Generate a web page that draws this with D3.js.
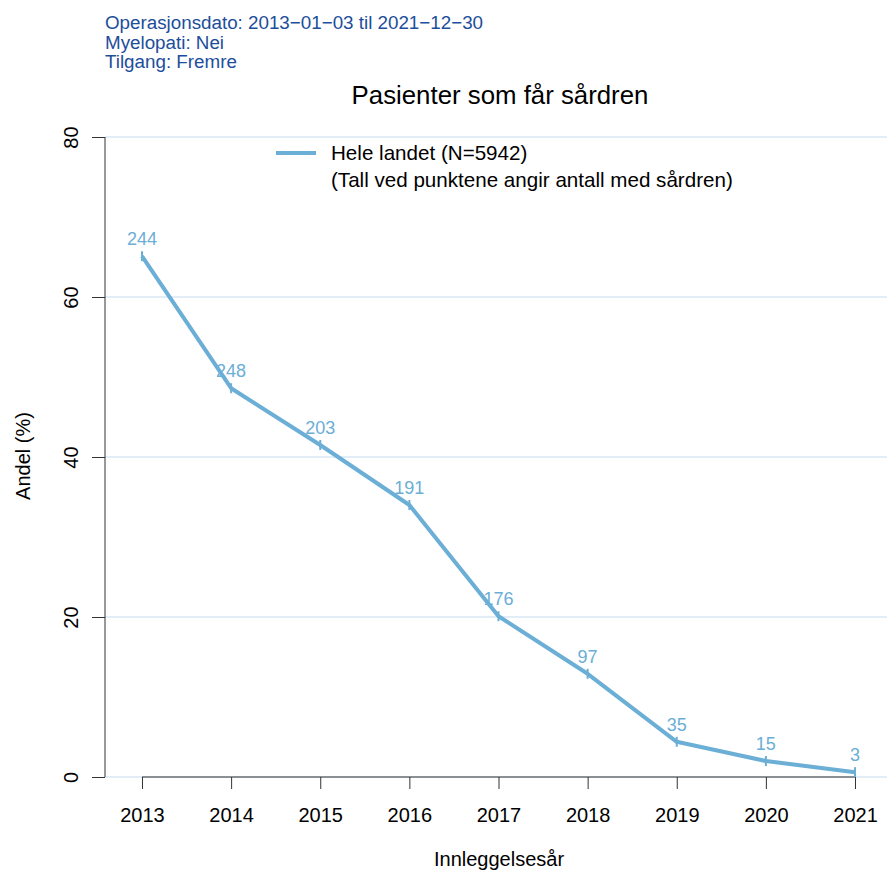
<!DOCTYPE html>
<html>
<head>
<meta charset="utf-8">
<script src="https://cdn.jsdelivr.net/npm/d3@7"></script>
<style>
  body { margin: 0; background: #fff; }
  text { font-family: "Liberation Sans", Arial, sans-serif; }
</style>
</head>
<body>
<svg id="chart"></svg>
<script>
const years = [2013, 2014, 2015, 2016, 2017, 2018, 2019, 2020, 2021];
const shares = [65.1, 48.6, 41.5, 34.0, 20.1, 12.9, 4.4, 2.0, 0.6];
const counts = [244, 248, 203, 191, 176, 97, 35, 15, 3];
const yTicks = [0, 20, 40, 60, 80];
const subtitleLines = [
  "Operasjonsdato: 2013\u221201\u221203 til 2021\u221212\u221230",
  "Myelopati: Nei",
  "Tilgang: Fremre"
];
const legendLines = ["Hele landet (N=5942)", "(Tall ved punktene angir antall med sårdren)"];

const width = 887;
const height = 874;
const lineColor = "#6baed6";
const gridColor = "#c6dbef";

const svg = d3.select("#chart").attr("width", width).attr("height", height);

const x = d3.scaleLinear().domain([2012.585, 2021.415]).range([105, 892]);
const y = d3.scaleLinear().domain([0, 80]).range([777, 137]);

// gridlines
svg.append("g")
  .selectAll("line")
  .data(yTicks)
  .join("line")
  .attr("x1", 105)
  .attr("x2", width)
  .attr("y1", (d) => y(d))
  .attr("y2", (d) => y(d))
  .attr("stroke", gridColor)
  .attr("stroke-width", 1);

// y axis
const yAxis = svg.append("g")
  .attr("transform", "translate(105,0)")
  .call(d3.axisLeft(y).tickValues(yTicks).tickSize(13).tickPadding(0).tickFormat(d3.format("d")));
yAxis.select(".domain").attr("stroke", "#333").attr("d", `M0,${y(0)}V${y(80)}`);
yAxis.selectAll(".tick line").attr("stroke", "#333");
yAxis.selectAll(".tick text")
  .attr("x", null)
  .attr("dy", null)
  .attr("transform", "translate(-27,0) rotate(-90)")
  .attr("text-anchor", "middle")
  .attr("font-size", 20)
  .attr("fill", "#000");

// x axis
const xAxis = svg.append("g")
  .attr("transform", `translate(0,${y(0)})`)
  .call(d3.axisBottom(x).tickValues(years).tickSize(12).tickPadding(0).tickFormat(d3.format("d")));
xAxis.select(".domain").attr("stroke", "#333").attr("d", `M${x(2013)},0H${x(2021)}`);
xAxis.selectAll(".tick line").attr("stroke", "#333");
xAxis.selectAll(".tick text")
  .attr("y", 45)
  .attr("dy", null)
  .attr("font-size", 20)
  .attr("fill", "#000");

// line
const line = d3.line()
  .x((d, i) => x(years[i]))
  .y((d) => y(d));

svg.append("path")
  .datum(shares)
  .attr("d", line)
  .attr("fill", "none")
  .attr("stroke", lineColor)
  .attr("stroke-width", 4)
  .attr("stroke-linejoin", "round");

// point marks
svg.append("g")
  .selectAll("line")
  .data(shares)
  .join("line")
  .attr("x1", (d, i) => x(years[i]))
  .attr("x2", (d, i) => x(years[i]))
  .attr("y1", (d) => y(d) - 5)
  .attr("y2", (d) => y(d) + 5)
  .attr("stroke", lineColor)
  .attr("stroke-width", 2);

// count labels
svg.append("g")
  .selectAll("text")
  .data(counts)
  .join("text")
  .attr("x", (d, i) => x(years[i]))
  .attr("y", (d, i) => y(shares[i]) - 11)
  .attr("text-anchor", "middle")
  .attr("font-size", 18)
  .attr("fill", lineColor)
  .text((d) => d);

// subtitle
svg.append("g")
  .selectAll("text")
  .data(subtitleLines)
  .join("text")
  .attr("x", 105)
  .attr("y", (d, i) => 29 + i * 19.5)
  .attr("font-size", 18.8)
  .attr("fill", "#1c4e9b")
  .text((d) => d);

// title
svg.append("text")
  .attr("x", 500)
  .attr("y", 104)
  .attr("text-anchor", "middle")
  .attr("font-size", 25.8)
  .attr("fill", "#000")
  .text("Pasienter som får sårdren");

// legend
svg.append("line")
  .attr("x1", 276)
  .attr("x2", 316)
  .attr("y1", 153)
  .attr("y2", 153)
  .attr("stroke", lineColor)
  .attr("stroke-width", 4);

svg.append("g")
  .selectAll("text")
  .data(legendLines)
  .join("text")
  .attr("x", 331)
  .attr("y", (d, i) => 160 + i * 27)
  .attr("font-size", 20.6)
  .attr("fill", "#000")
  .text((d) => d);

// axis titles
svg.append("text")
  .attr("x", 499)
  .attr("y", 866)
  .attr("text-anchor", "middle")
  .attr("font-size", 20)
  .attr("fill", "#000")
  .text("Innleggelsesår");

svg.append("text")
  .attr("transform", "translate(30,456) rotate(-90)")
  .attr("text-anchor", "middle")
  .attr("font-size", 20)
  .attr("fill", "#000")
  .text("Andel (%)");
</script>
</body>
</html>
